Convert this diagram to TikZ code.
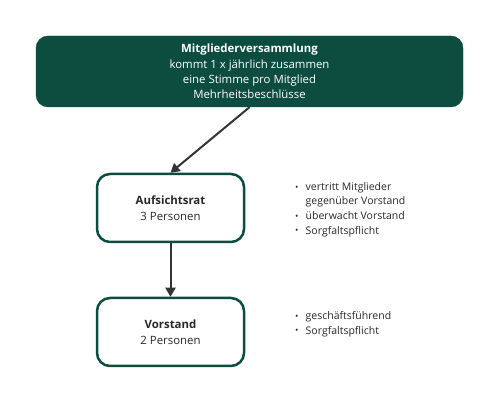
\documentclass[tikz,border=0pt]{standalone}
\usepackage{fontspec}
\setmainfont{Open Sans}
\usetikzlibrary{arrows.meta}
\definecolor{dgreen}{RGB}{12,77,64}
\definecolor{agray}{RGB}{51,51,51}
\definecolor{tgray}{RGB}{40,40,40}
\tikzset{
  x=1pt,y=1pt,
  topbox/.style={fill=dgreen, draw=dgreen, rounded corners=12pt, minimum width=427pt, minimum height=71pt, text=white, align=center, font=\fontsize{11.4}{15.3}\selectfont},
  orgbox/.style={fill=white, draw=dgreen, line width=2.5pt, rounded corners=13pt, minimum width=147pt, minimum height=68pt, text=tgray, align=center, font=\fontsize{11.4}{16}\selectfont},
  conn/.style={draw=agray, line width=2pt, -{Triangle[length=9pt,width=10pt]}},
  bul/.style={anchor=west, text=tgray, font=\fontsize{10.5}{14.6}\selectfont, inner sep=0pt, align=left}
}
\newcommand{\bpt}{\makebox[10.5pt][l]{\raisebox{0.3pt}{\scalebox{0.85}{\textbullet}}}}
\begin{document}
\begin{tikzpicture}
\useasboundingbox (0,0) rectangle (500,419);
\node[topbox] (mv) at (249.5,347.5) {\textbf{Mitgliederversammlung}\\kommt 1 x jährlich zusammen\\eine Stimme pro Mitglied\\Mehrheitsbeschlüsse};
\node[orgbox] (ar) at (170.5,211) {\textbf{Aufsichtsrat}\\3 Personen};
\node[orgbox] (vs) at (170.5,87) {\textbf{Vorstand}\\2 Personen};
\draw[conn] (mv.south) -- (ar.north);
\draw[conn] (ar.south) -- (vs.north);
\node[bul] (b1) at (295,209.5) {\bpt vertritt Mitglieder\\\hphantom{\bpt}gegenüber Vorstand\\\bpt überwacht Vorstand\\\bpt Sorgfaltspflicht};
\node[bul] (b2) at (295,95) {\bpt geschäftsführend\\\bpt Sorgfaltspflicht};
\end{tikzpicture}
\end{document}
